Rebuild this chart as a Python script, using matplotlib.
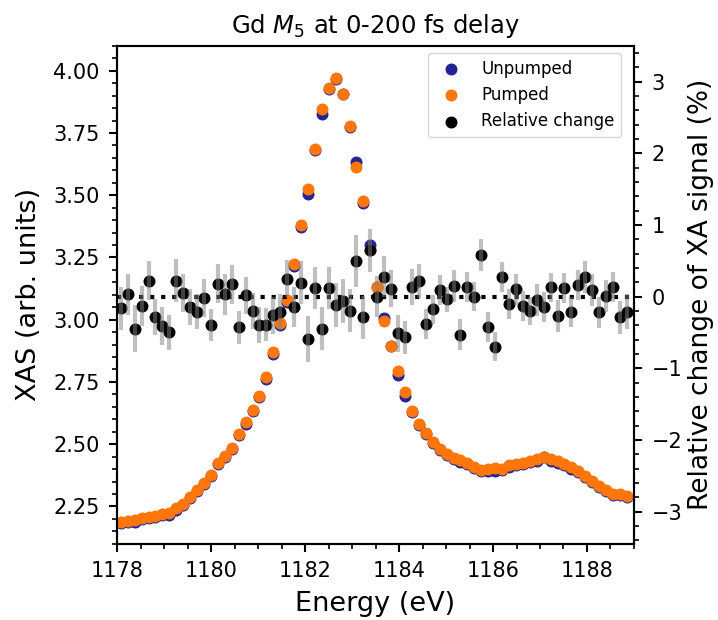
import matplotlib
matplotlib.use('Agg')
import matplotlib.pyplot as plt
from matplotlib.ticker import AutoMinorLocator, MultipleLocator

# photon energy (eV)
energy = [1178.080, 1178.228, 1178.375, 1178.523, 1178.670, 1178.818, 1178.965, 1179.113,
          1179.260, 1179.408, 1179.555, 1179.703, 1179.850, 1179.998, 1180.145, 1180.293,
          1180.440, 1180.588, 1180.735, 1180.883, 1181.030, 1181.178, 1181.325, 1181.473,
          1181.620, 1181.768, 1181.915, 1182.063, 1182.210, 1182.358, 1182.505, 1182.653,
          1182.800, 1182.948, 1183.095, 1183.243, 1183.390, 1183.538, 1183.685, 1183.833,
          1183.980, 1184.128, 1184.275, 1184.423, 1184.570, 1184.718, 1184.865, 1185.013,
          1185.160, 1185.308, 1185.455, 1185.603, 1185.750, 1185.898, 1186.045, 1186.193,
          1186.340, 1186.488, 1186.635, 1186.783, 1186.930, 1187.078, 1187.225, 1187.373,
          1187.520, 1187.668, 1187.815, 1187.963, 1188.110, 1188.258, 1188.405, 1188.553,
          1188.700, 1188.848]

unpumped = [2.182, 2.188, 2.188, 2.199, 2.205, 2.209, 2.214, 2.214, 2.236, 2.256,
            2.283, 2.310, 2.339, 2.371, 2.421, 2.450, 2.481, 2.537, 2.583, 2.633,
            2.688, 2.763, 2.864, 2.980, 3.073, 3.216, 3.374, 3.503, 3.680, 3.828,
            3.927, 3.966, 3.905, 3.775, 3.633, 3.468, 3.300, 3.130, 3.006, 2.893,
            2.778, 2.693, 2.630, 2.576, 2.540, 2.504, 2.478, 2.456, 2.440, 2.427,
            2.419, 2.405, 2.391, 2.393, 2.394, 2.398, 2.409, 2.418, 2.420, 2.427,
            2.434, 2.447, 2.434, 2.426, 2.418, 2.402, 2.388, 2.367, 2.348, 2.327,
            2.310, 2.297, 2.294, 2.288]

pumped = [2.186, 2.191, 2.195, 2.202, 2.208, 2.212, 2.219, 2.225, 2.242, 2.259,
          2.287, 2.315, 2.342, 2.378, 2.425, 2.453, 2.485, 2.542, 2.588, 2.636,
          2.694, 2.771, 2.869, 2.987, 3.080, 3.222, 3.379, 3.527, 3.684, 3.847,
          3.931, 3.971, 3.908, 3.780, 3.613, 3.477, 3.279, 3.133, 2.993, 2.896,
          2.793, 2.709, 2.633, 2.580, 2.546, 2.509, 2.482, 2.459, 2.445, 2.435,
          2.425, 2.409, 2.398, 2.402, 2.406, 2.402, 2.415, 2.422, 2.425, 2.431,
          2.439, 2.449, 2.439, 2.431, 2.422, 2.409, 2.393, 2.373, 2.353, 2.333,
          2.315, 2.299, 2.299, 2.292]

# relative change (%) and its error
rel_change = [-0.16, 0.03, -0.45, -0.13, 0.22, -0.29, -0.41, -0.50, 0.22, 0.05,
              -0.15, -0.21, -0.02, -0.40, 0.18, 0.03, 0.17, -0.43, 0.02, -0.20,
              -0.40, -0.39, -0.26, -0.21, 0.25, -0.14, 0.19, -0.59, 0.12, -0.45,
              0.12, -0.12, -0.06, -0.20, 0.50, -0.29, 0.65, 0.00, 0.28, 0.11,
              -0.51, -0.57, 0.13, 0.22, -0.38, -0.18, 0.09, -0.04, 0.15, -0.53,
              0.13, 0.00, 0.58, -0.43, -0.70, 0.27, -0.10, 0.10, -0.13, -0.20,
              -0.05, -0.14, 0.13, -0.27, 0.12, -0.21, 0.16, 0.27, 0.09, -0.22,
              0.01, 0.14, -0.29, -0.21]

rel_err = [0.30, 0.28, 0.33, 0.28, 0.27, 0.25, 0.26, 0.24, 0.30, 0.26,
           0.25, 0.24, 0.26, 0.22, 0.27, 0.28, 0.27, 0.23, 0.26, 0.25,
           0.25, 0.23, 0.26, 0.25, 0.26, 0.28, 0.30, 0.32, 0.30, 0.30,
           0.29, 0.31, 0.31, 0.30, 0.36, 0.30, 0.30, 0.29, 0.28, 0.26,
           0.26, 0.23, 0.25, 0.24, 0.21, 0.20, 0.21, 0.18, 0.22, 0.22,
           0.21, 0.20, 0.22, 0.21, 0.20, 0.21, 0.21, 0.22, 0.21, 0.20,
           0.22, 0.21, 0.20, 0.22, 0.21, 0.21, 0.21, 0.22, 0.22, 0.22,
           0.22, 0.21, 0.23, 0.24]

fig, ax = plt.subplots(figsize=(7.18, 6.2), dpi=100)
fig.subplots_adjust(left=0.163, right=0.883, top=0.926, bottom=0.123)

ax.scatter(energy, unpumped, s=58, color='#232394', label='Unpumped')
ax.scatter(energy, pumped, s=58, color='#ff760a', label='Pumped')

ax2 = ax.twinx()
ax2.axhline(0, color='k', linestyle=':', linewidth=3)
ax2.errorbar(energy, rel_change, yerr=rel_err, fmt='none',
             ecolor=(0.5, 0.5, 0.5, 0.5), elinewidth=3)
ax2.scatter(energy, rel_change, s=58, color='k', label='Relative change')

ax.set_xlim(1178, 1189)
ax.set_ylim(2.1, 4.1)
ax2.set_ylim(-3.45, 3.5)

ax.xaxis.set_major_locator(MultipleLocator(2))
ax.xaxis.set_minor_locator(AutoMinorLocator(4))
ax.yaxis.set_major_locator(MultipleLocator(0.25))
ax.yaxis.set_minor_locator(AutoMinorLocator(5))
ax2.yaxis.set_major_locator(MultipleLocator(1))
ax2.yaxis.set_minor_locator(AutoMinorLocator(5))

for a in (ax, ax2):
    a.tick_params(which='major', length=6, width=1.5, labelsize=15, pad=6.5)
    a.tick_params(which='minor', length=3.5, width=1.2)
    for sp in a.spines.values():
        sp.set_linewidth(1.5)

ax.set_xlabel('Energy (eV)', fontsize=19.5, labelpad=7)
ax.set_ylabel('XAS (arb. units)', fontsize=19.5, labelpad=8)
ax2.set_ylabel('Relative change of XA signal (%)', fontsize=19, labelpad=4)
ax.set_title('Gd $M_5$ at 0-200 fs delay', fontsize=17.5, pad=9)

h1, l1 = ax.get_legend_handles_labels()
h2, l2 = ax2.get_legend_handles_labels()
ax2.legend(h1 + h2, l1 + l2, loc='upper right', fontsize=12,
           bbox_to_anchor=(0.975, 0.986), borderaxespad=0)

fig.savefig('out.png', dpi=100)
